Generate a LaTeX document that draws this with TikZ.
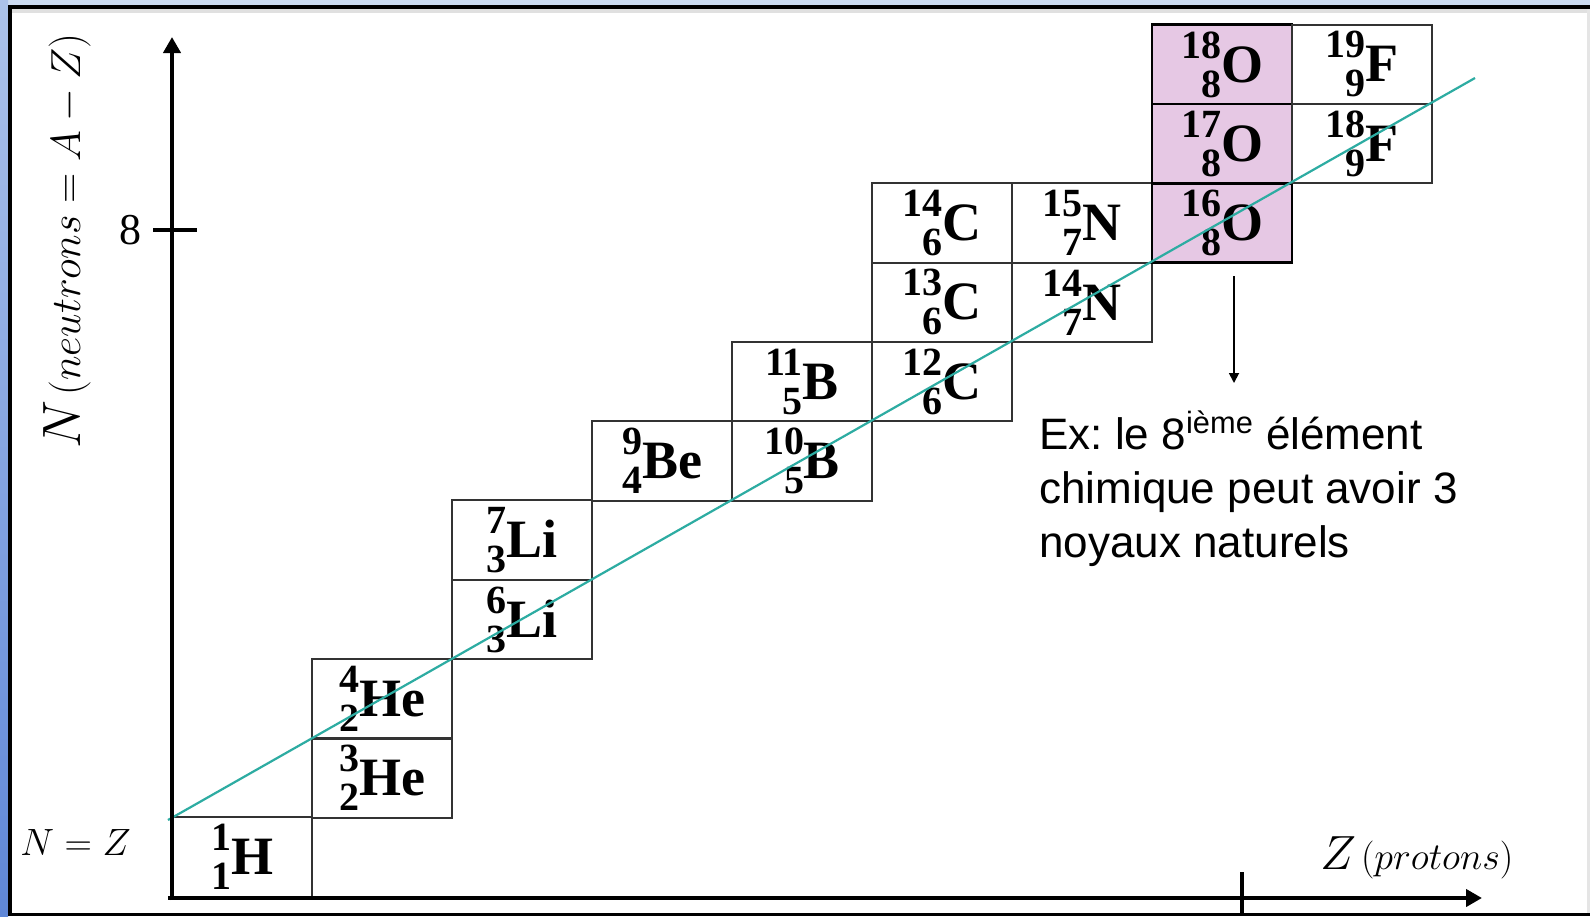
\RequirePackage{fix-cm}
\documentclass[tikz,border=0pt]{standalone}
\usepackage[no-math]{fontspec}
\setmainfont{Liberation Serif}
\newfontfamily\arial{Liberation Sans}
\usetikzlibrary{arrows.meta}

\definecolor{rosa}{RGB}{230,200,228}
\definecolor{ciano}{RGB}{45,172,162}
\definecolor{bordoblu}{RGB}{95,135,215}
\definecolor{bordochiaro}{RGB}{205,220,242}

% notazione A/Z/X con indici allineati a destra
\newlength{\isolen}
\newcommand{\isoscr}{\fontsize{20}{20}\selectfont}
\newcommand{\iso}[3]{{\isoscr\settowidth{\isolen}{#1}%
  \raisebox{12pt}{#1}\hspace{-\isolen}\makebox[\isolen][r]{\raisebox{-7.5pt}{#2}}}#3}

\tikzset{
  cella/.style={draw=black!80, line width=1pt, minimum width=70pt, minimum height=39.65pt,
    inner sep=0pt, font=\fontsize{27}{27}\selectfont\bfseries},
  ossigeno/.style={cella, draw=black, line width=1.4pt, fill=rosa},
  asse/.style={line width=2.2pt, -{Triangle[length=8pt,width=8.5pt]}},
  tacca/.style={line width=2.4pt},
  diagonale/.style={ciano, line width=1.1pt},
  freccia/.style={line width=0.9pt, -{Triangle[length=5pt,width=5pt]}}
}

\begin{document}
\begin{tikzpicture}[x=0.5pt, y=-0.5pt]
            % Sfondo e cornice
            \useasboundingbox (0,0) rectangle (1590,916);
            \fill[white] (0,0) rectangle (1590,916);
            \fill[bordochiaro] (0,0) rectangle (1590,5);
            \shade[top color=bordochiaro!70!bordoblu, bottom color=bordoblu] (0,0) rectangle (8,916);
            \fill[black!12] (12,9) rectangle (1590,13);
            \fill[black] (8,5) rectangle (1590,9);
            \fill[black] (8,5) rectangle (12,916);
            \fill[black] (8,913) rectangle (1590,916);
            \fill[black!10] (1587,9) rectangle (1590,913);

            % Z = 1 .. 5
            \node (H1) at (242,857) [cella] {\iso{1}{1}{H}};
            \node (He3) at (382,778) [cella] {\iso{3}{2}{He}};
            \node (He4) at (382,699) [cella] {\iso{4}{2}{He}};
            \node (Li6) at (522,619.5) [cella] {\iso{6}{3}{Li}};
            \node (Li7) at (522,540) [cella] {\iso{7}{3}{Li}};
            \node (Be9) at (662,461) [cella] {\iso{9}{4}{Be}};
            \node (B10) at (802,461) [cella] {\iso{10}{5}{B}};
            \node (B11) at (802,381.6) [cella] {\iso{11}{5}{B}};

            % Z = 6 .. 9
            \node (C12) at (942,381.6) [cella] {\iso{12}{6}{C}};
            \node (C13) at (942,302.3) [cella] {\iso{13}{6}{C}};
            \node (C14) at (942,223) [cella] {\iso{14}{6}{C}};
            \node (N14) at (1082,302.3) [cella] {\iso{14}{7}{N}};
            \node (N15) at (1082,223) [cella] {\iso{15}{7}{N}};
            \node (O16) at (1222,223) [ossigeno] {\iso{16}{8}{O}};
            \node (O17) at (1222,143.7) [ossigeno] {\iso{17}{8}{O}};
            \node (O18) at (1222,64.4) [ossigeno] {\iso{18}{8}{O}};
            \node (F18) at (1362,143.7) [cella] {\iso{18}{9}{F}};
            \node (F19) at (1362,64.4) [cella] {\iso{19}{9}{F}};

            % Retta N = Z
            \coordinate (diagA) at (168,820);
            \coordinate (diagB) at (1475,78);
            \draw[diagonale] (diagA) -- (diagB);

            % Assi
            \coordinate (baseY) at (172,900);
            \coordinate (cimaY) at (172,37);
            \coordinate (baseX) at (168,898);
            \coordinate (fineX) at (1482,898);
            \draw[asse] (baseY) -- (cimaY);
            \draw[asse] (baseX) -- (fineX);
            \draw[tacca] (153,230) -- (197,230);
            \draw[tacca] (1242,872) -- (1242,916);

            % Etichette
            \node (otto) at (130,230) {\fontsize{22}{22}\selectfont 8};
            \node (asseN) at (80,241) [rotate=90, anchor=base, inner sep=0pt]
              {{\fontsize{27}{27}\selectfont$N$} {\fontsize{21}{21}\selectfont$(neutrons = A - Z)$}};
            \node (NZ) at (20,855) [anchor=base west, inner sep=0pt] {\fontsize{19}{19}\selectfont$N = Z$};
            \node (asseZ) at (1320,869) [anchor=base west, inner sep=0pt]
              {{\fontsize{24}{24}\selectfont$Z$} {\fontsize{19}{19}\selectfont$(protons)$}};

            % Nota
            \node (nota) at (1039,557) [anchor=base west, align=left, inner sep=0pt,
              font=\arial\fontsize{22}{26.8}\selectfont\frenchspacing]
              {Ex: le 8\textsuperscript{ième} élément\\chimique peut avoir 3\\noyaux naturels};
            \coordinate (coda) at (1234,276);
            \coordinate (punta) at (1234,383);
            \draw[freccia] (coda) -- (punta);
\end{tikzpicture}
\end{document}
